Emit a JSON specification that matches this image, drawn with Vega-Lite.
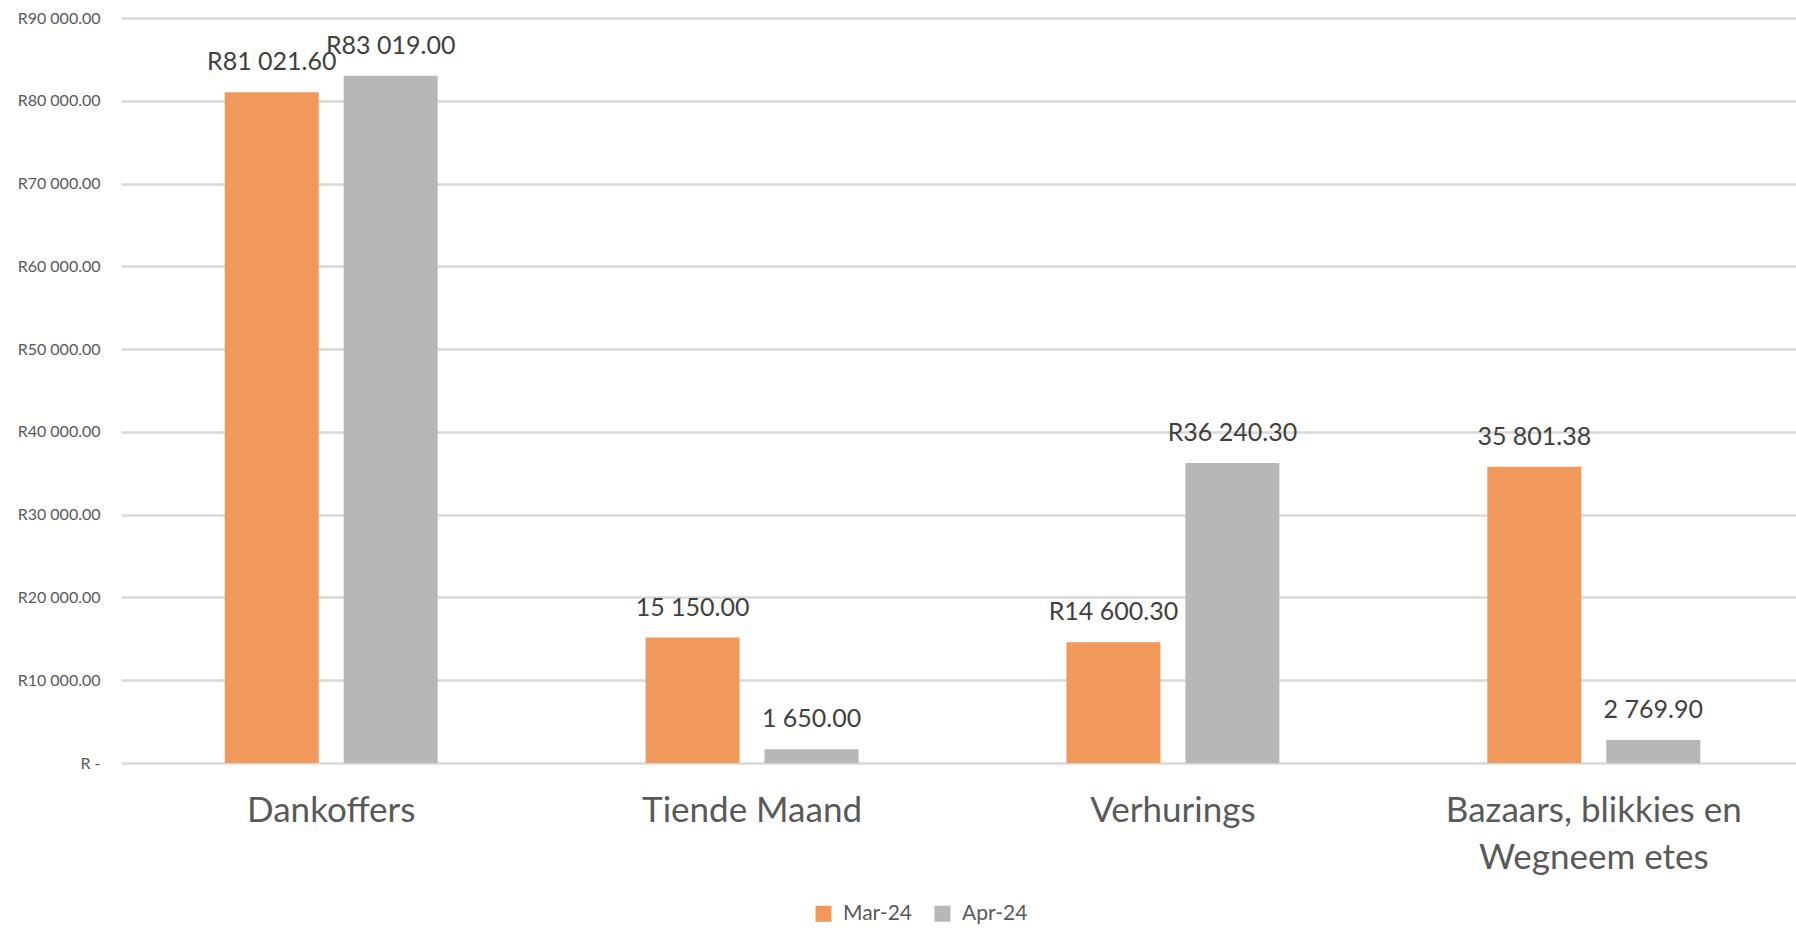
{
  "$schema": "https://vega.github.io/schema/vega-lite/v6.json",
  "width": 1675,
  "height": 745,
  "autosize": {"type": "none"},
  "padding": {"left": 121, "top": 18, "right": 0, "bottom": 165},
  "background": "white",
  "config": {
    "view": {"stroke": null},
    "font": "Lato"
  },
  "data": {
    "values": [
      {"category": "Dankoffers", "month": "Mar-24", "amount": 81021.60, "label": "R81 021.60"},
      {"category": "Dankoffers", "month": "Apr-24", "amount": 83019.00, "label": "R83 019.00"},
      {"category": "Tiende Maand", "month": "Mar-24", "amount": 15150.00, "label": "15 150.00"},
      {"category": "Tiende Maand", "month": "Apr-24", "amount": 1650.00, "label": "1 650.00"},
      {"category": "Verhurings", "month": "Mar-24", "amount": 14600.30, "label": "R14 600.30"},
      {"category": "Verhurings", "month": "Apr-24", "amount": 36240.30, "label": "R36 240.30"},
      {"category": "Bazaars, blikkies en Wegneem etes", "month": "Mar-24", "amount": 35801.38, "label": "35 801.38"},
      {"category": "Bazaars, blikkies en Wegneem etes", "month": "Apr-24", "amount": 2769.90, "label": "2 769.90"}
    ]
  },
  "encoding": {
    "x": {
      "field": "category",
      "type": "nominal",
      "sort": ["Dankoffers", "Tiende Maand", "Verhurings", "Bazaars, blikkies en Wegneem etes"],
      "scale": {"paddingInner": 0.494, "paddingOuter": 0.237, "align": 0.52},
      "axis": {
        "title": null,
        "domain": false,
        "ticks": false,
        "labelAngle": 0,
        "labelFont": "Lato",
        "labelFontSize": 35,
        "labelColor": "#595959",
        "labelBaseline": "top",
        "labelPadding": 30,
        "labelLineHeight": 47,
        "labelLimit": 0,
        "labelExpr": "datum.label == 'Bazaars, blikkies en Wegneem etes' ? ['Bazaars, blikkies en', 'Wegneem etes'] : datum.label"
      }
    },
    "xOffset": {
      "field": "month",
      "type": "nominal",
      "sort": ["Mar-24", "Apr-24"],
      "scale": {"paddingInner": 0.21, "paddingOuter": 0}
    },
    "y": {
      "field": "amount",
      "type": "quantitative",
      "scale": {"domain": [0, 90000], "nice": false},
      "axis": {
        "title": null,
        "domain": false,
        "ticks": false,
        "values": [0, 10000, 20000, 30000, 40000, 50000, 60000, 70000, 80000, 90000],
        "labelExpr": "datum.value == 0 ? 'R -' : 'R' + replace(format(datum.value, ',.2f'), ',', ' ')",
        "labelFont": "Lato",
        "labelFontSize": 16,
        "labelColor": "#595959",
        "labelPadding": 21,
        "grid": true,
        "gridColor": "#D9D9D9",
        "gridWidth": 2.5
      }
    }
  },
  "layer": [
    {
      "mark": {"type": "bar"},
      "encoding": {
        "color": {
          "field": "month",
          "type": "nominal",
          "scale": {"domain": ["Mar-24", "Apr-24"], "range": ["#F0995B", "#B7B7B7"]},
          "legend": {
            "title": null,
            "orient": "none",
            "direction": "horizontal",
            "legendX": 692,
            "legendY": 885,
            "padding": 0,
            "symbolType": "square",
            "symbolSize": 256,
            "symbolStrokeWidth": 0,
            "labelFont": "Lato",
            "labelFontSize": 21,
            "labelColor": "#595959",
            "labelOffset": 9,
            "columnPadding": 20
          }
        }
      }
    },
    {
      "mark": {"type": "text", "baseline": "bottom", "dy": -17, "font": "Lato", "fontSize": 25, "color": "#404040"},
      "encoding": {
        "text": {"field": "label"}
      }
    }
  ]
}
